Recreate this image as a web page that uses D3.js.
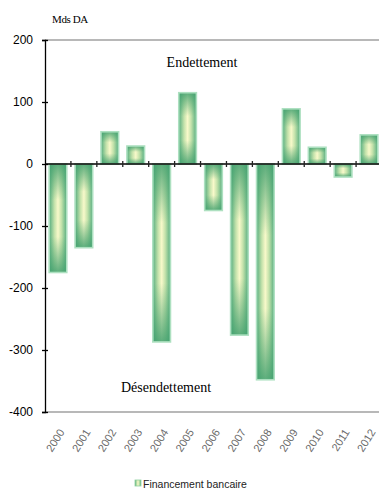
<!DOCTYPE html>
<html>
<head>
<meta charset="utf-8">
<script src="https://cdn.jsdelivr.net/npm/d3@7"></script>
<style>
  html, body { margin: 0; padding: 0; background: #fff; }
  svg { display: block; }
</style>
</head>
<body>
<div id="chart"></div>
<script>
// Financement bancaire, Mds DA
const years = ["2000","2001","2002","2003","2004","2005","2006","2007","2008","2009","2010","2011","2012"];
const values = [-175, -135, 52, 29, -287, 115, -75, -276, -348, 89, 27, -21, 47];
const yTicks = [200, 100, 0, -100, -200, -300, -400];
const seriesName = "Financement bancaire";
const unitLabel = "Mds DA";
const upperNote = "Endettement";
const lowerNote = "Désendettement";

const W = 379, H = 490;
const plot = { left: 45, right: 382, top: 40, bottom: 412 };

const svg = d3.select("#chart").append("svg")
  .attr("width", W).attr("height", H);

const defs = svg.append("defs");
const hGrad = defs.append("linearGradient").attr("id", "barH")
  .attr("x1", 0).attr("y1", 0).attr("x2", 1).attr("y2", 0);
hGrad.selectAll("stop").data([
  [0, "#56ad7f"], [0.3, "#c4e2ab"], [0.5, "#f8f9ca"], [0.7, "#c4e2ab"], [1, "#56ad7f"]
]).join("stop").attr("offset", d => d[0]).attr("stop-color", d => d[1]);

const vGrad = defs.append("linearGradient").attr("id", "barV")
  .attr("x1", 0).attr("y1", 0).attr("x2", 0).attr("y2", 1);
vGrad.selectAll("stop").data([
  [0, 0.85], [0.33, 0], [0.67, 0], [1, 0.85]
]).join("stop").attr("offset", d => d[0])
  .attr("stop-color", "#41a06e").attr("stop-opacity", d => d[1]);

const x = d3.scaleBand().domain(years)
  .range([plot.left, plot.right]).paddingInner(0.32).paddingOuter(0.16);
const y = d3.scaleLinear().domain([-400, 200]).range([plot.bottom, plot.top]);

// plot frame lines (top and bottom)
svg.append("line").attr("x1", plot.left).attr("x2", W)
  .attr("y1", y(200)).attr("y2", y(200))
  .attr("stroke", "#a0a0a0").attr("stroke-width", 1.3);
svg.append("line").attr("x1", plot.left).attr("x2", W)
  .attr("y1", y(-400)).attr("y2", y(-400))
  .attr("stroke", "#a0a0a0").attr("stroke-width", 1.3);

// bars
const bars = svg.append("g");
const barData = years.map((yr, i) => ({ yr, v: values[i] }));
bars.selectAll("rect.base").data(barData).join("rect")
  .attr("class", "base")
  .attr("x", d => x(d.yr))
  .attr("width", x.bandwidth())
  .attr("y", d => y(Math.max(0, d.v)))
  .attr("height", d => Math.abs(y(d.v) - y(0)))
  .attr("fill", "url(#barH)");
bars.selectAll("rect.shade").data(barData).join("rect")
  .attr("class", "shade")
  .attr("x", d => x(d.yr))
  .attr("width", x.bandwidth())
  .attr("y", d => y(Math.max(0, d.v)))
  .attr("height", d => Math.abs(y(d.v) - y(0)))
  .attr("fill", "url(#barV)")
  .attr("stroke", "#ade0c0").attr("stroke-width", 1.6);

// y axis
const yAxis = d3.axisLeft(y).tickValues(yTicks).tickSize(3).tickPadding(9)
  .tickFormat(d => String(d));
const gy = svg.append("g").attr("transform", `translate(${plot.left},0)`).call(yAxis);
gy.select(".domain").attr("stroke", "#000").attr("stroke-width", 1.3);
gy.selectAll(".tick line").attr("stroke", "#000").attr("stroke-width", 1.3)
  .attr("x2", 3).attr("x1", -3);
gy.selectAll(".tick text")
  .attr("font-family", "Liberation Sans, Arial, sans-serif")
  .attr("font-size", 12).attr("fill", "#000");

// zero line with category separators
const zeroY = y(0);
svg.append("line").attr("x1", plot.left).attr("x2", W)
  .attr("y1", zeroY).attr("y2", zeroY)
  .attr("stroke", "#000").attr("stroke-width", 1.3);
const step = x.step();
const seps = d3.range(1, years.length).map(i => x(years[i]) - (step - x.bandwidth()) / 2);
svg.append("g").selectAll("line").data(seps).join("line")
  .attr("x1", d => d).attr("x2", d => d)
  .attr("y1", zeroY - 3).attr("y2", zeroY + 3)
  .attr("stroke", "#222").attr("stroke-width", 1.3);

// x labels
svg.append("g").selectAll("text").data(years).join("text")
  .attr("transform", d => `translate(${x(d) + x.bandwidth() / 2 + 7},${plot.bottom + 20}) rotate(-58)`)
  .attr("text-anchor", "end")
  .attr("font-family", "Liberation Sans, Arial, sans-serif")
  .attr("font-size", 11).attr("fill", "#6a6a6a")
  .text(d => d);

// annotations
const serif = "Liberation Serif, Times New Roman, serif";
svg.append("text").attr("x", 52).attr("y", 23)
  .attr("font-family", serif).attr("font-size", 11).attr("fill", "#000")
  .attr("letter-spacing", -0.4).text(unitLabel);
svg.append("text").attr("x", 202).attr("y", 67).attr("text-anchor", "middle")
  .attr("font-family", serif).attr("font-size", 14).attr("fill", "#000")
  .text(upperNote);
svg.append("text").attr("x", 166).attr("y", 392).attr("text-anchor", "middle")
  .attr("font-family", serif).attr("font-size", 14).attr("fill", "#000")
  .text(lowerNote);

// legend
const lg = svg.append("g").attr("transform", "translate(135,480)");
lg.append("rect").attr("width", 6).attr("height", 6)
  .attr("fill", "url(#barH)").attr("stroke", "#8fcf9f").attr("stroke-width", 0.8);
lg.append("text").attr("x", 8).attr("y", 7.5)
  .attr("font-family", "Liberation Sans, Arial, sans-serif")
  .attr("font-size", 10.5).attr("fill", "#222")
  .text(seriesName);
</script>
</body>
</html>
